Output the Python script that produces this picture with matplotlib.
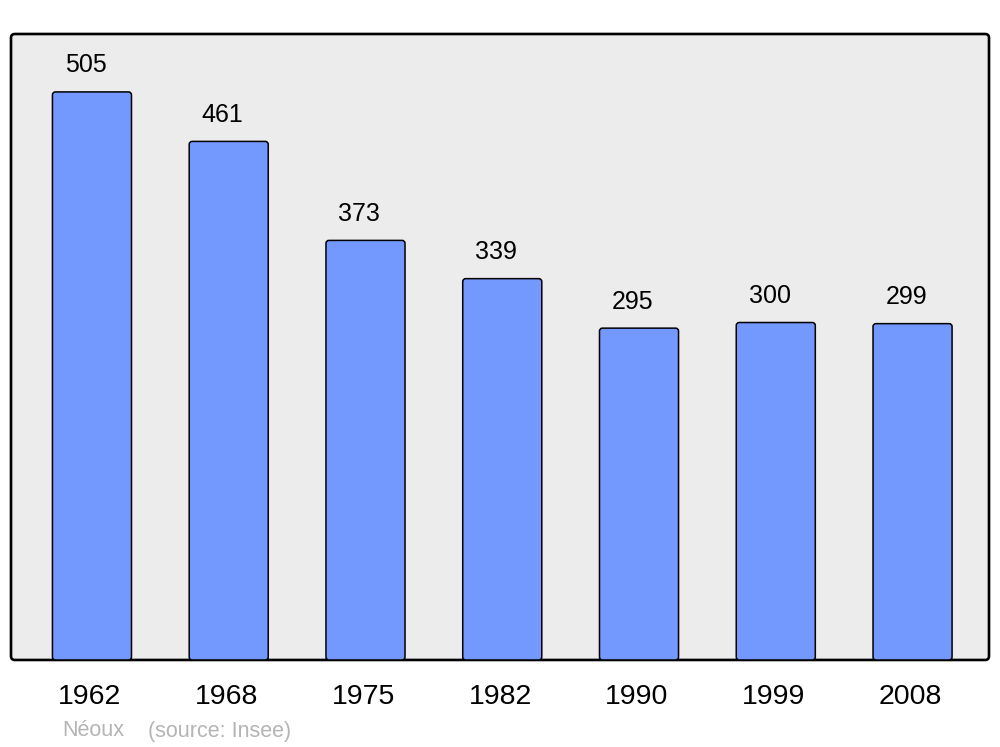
import matplotlib
matplotlib.use("Agg")
import matplotlib.pyplot as plt
from matplotlib.patches import FancyBboxPatch

plt.rcParams['font.family'] = ['Liberation Sans', 'DejaVu Sans']

years = ["1962", "1968", "1975", "1982", "1990", "1999", "2008"]
population = [505, 461, 373, 339, 295, 300, 299]
commune = "Néoux"
source = "(source: Insee)"

fig = plt.figure(figsize=(10, 7.47), dpi=100)
ax = fig.add_axes([0.011, 0.1165, 0.978, 0.838])
ax.set_xlim(-0.592, 6.559)
ax.set_ylim(0, 556.5)
ax.patch.set_visible(False)
for s in ax.spines.values():
    s.set_visible(False)
ax.set_xticks([])
ax.set_yticks([])

frame = FancyBboxPatch((0, 0), 1, 1, boxstyle="round,pad=0,rounding_size=0.004",
                       transform=ax.transAxes, facecolor="#ececec", edgecolor="black",
                       linewidth=1.9, clip_on=False, zorder=0,
                       mutation_aspect=978 / 626)
ax.add_patch(frame)

x = list(range(len(years)))
bars = ax.bar(x, population, width=0.578, color="#7399ff", edgecolor="black",
              linewidth=1.1, zorder=2)
# rounded-corner versions of the bars
xs = 136.75
ys = 626 / 556.5
for b in bars:
    bx, by = b.get_x(), b.get_y()
    bw, bh = b.get_width(), b.get_height()
    b.set_visible(False)
    p = FancyBboxPatch((bx, by), bw, bh,
                       boxstyle="round,pad=0,rounding_size=%f" % (3 / xs),
                       mutation_aspect=xs / ys,
                       facecolor="#7399ff", edgecolor="black", linewidth=1.1, zorder=2)
    ax.add_patch(p)

for xi, v in zip(x, population):
    ax.annotate(str(v), (xi, v), xytext=(-4.5, 10.5), textcoords="offset points",
                ha="center", va="bottom", fontsize=18, color="black")

for xi, yr in zip(x, years):
    ax.annotate(yr, (xi, 0), xytext=(-1.5, -27), textcoords="offset points",
                ha="center", va="center", fontsize=20.5, color="black",
                annotation_clip=False)

fig.text(0.062, 1 - 731 / 747, commune, fontsize=15.5, color="#b4b4b4",
         ha="left", va="center")
fig.text(0.148, 1 - 731 / 747, source, fontsize=15.5, color="#b4b4b4",
         ha="left", va="center")

fig.savefig("out.png", dpi=100, facecolor="white")
